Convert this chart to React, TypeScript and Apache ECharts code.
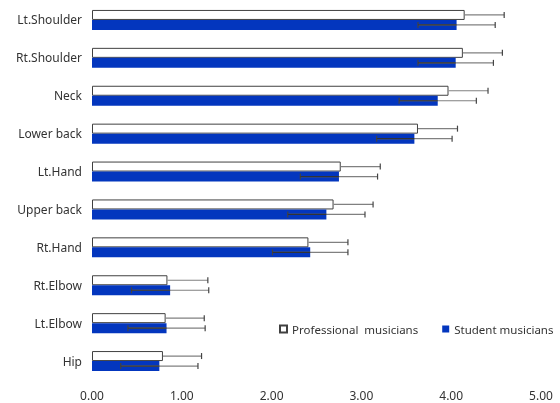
import React, { useEffect, useRef } from "react";
import * as echarts from "echarts";

const categories = ["Lt.Shoulder", "Rt.Shoulder", "Neck", "Lower back", "Lt.Hand", "Upper back", "Rt.Hand", "Rt.Elbow", "Lt.Elbow", "Hip"];
const professional = [4.15, 4.13, 3.97, 3.63, 2.77, 2.69, 2.41, 0.84, 0.82, 0.79];
const professionalSd = [0.44, 0.44, 0.44, 0.44, 0.44, 0.44, 0.44, 0.45, 0.43, 0.43];
const student = [4.06, 4.05, 3.85, 3.59, 2.75, 2.61, 2.43, 0.87, 0.83, 0.75];
const studentSd = [0.43, 0.42, 0.43, 0.42, 0.43, 0.43, 0.42, 0.43, 0.43, 0.43];
const xTicks = [0, 1, 2, 3, 4, 5];

const FONT = "'Noto Sans', sans-serif";
const BLUE = "#0336BE";

function errorSeries(name: string, means: number[], sds: number[], offset: number, both: boolean) {
  return {
    type: "custom",
    name: name + "-err",
    z: 5,
    silent: true,
    data: means.map((m, i) => [m, i, sds[i]]),
    encode: { x: 0, y: 1 },
    renderItem: (params: any, api: any) => {
      const m = api.value(0);
      const c = api.value(1);
      const s = api.value(2);
      const mid = api.coord([m, c]);
      const lo = api.coord([both ? m - s : m, c]);
      const hi = api.coord([m + s, c]);
      const y = mid[1] + offset;
      const children: any[] = [
        { type: "line", shape: { x1: lo[0], y1: y, x2: hi[0], y2: y }, style: { stroke: "#808080", lineWidth: 1.2 } },
        { type: "line", shape: { x1: hi[0], y1: y - 3, x2: hi[0], y2: y + 3 }, style: { stroke: "#444", lineWidth: 1.2 } },
      ];
      if (both) {
        children.push({ type: "line", shape: { x1: lo[0], y1: y - 3, x2: lo[0], y2: y + 3 }, style: { stroke: "#444", lineWidth: 1.2 } });
        children.push({ type: "line", shape: { x1: lo[0], y1: y, x2: mid[0], y2: y }, style: { stroke: "#333", lineWidth: 1.2 } });
      }
      return { type: "group", children };
    },
  };
}

export default function App() {
  const ref = useRef<HTMLDivElement>(null);
  useEffect(() => {
    if (!ref.current) return;
    const chart = echarts.init(ref.current, null, { renderer: "svg" });
    chart.setOption({
      animation: false,
      textStyle: { fontFamily: FONT },
      grid: { left: 92, right: 19, top: 1, bottom: 23, containLabel: false },
      legend: {
        left: 279,
        top: 323,
        width: 300,
        padding: 0,
        itemWidth: 7,
        itemHeight: 7,
        itemGap: 24,
        icon: "rect",
        textStyle: { fontFamily: FONT, fontSize: 11.5, color: "#333" },
        data: ["Professional  musicians", "Student musicians"],
      },
      xAxis: {
        type: "value",
        min: 0,
        max: 5,
        interval: 1,
        axisLine: { show: false },
        axisTick: { show: false },
        splitLine: { show: false },
        axisLabel: {
          margin: 9,
          fontSize: 12,
          color: "#333",
          fontFamily: FONT,
          formatter: (v: number) => (xTicks.includes(v) ? v.toFixed(2) : ""),
        },
      },
      yAxis: {
        type: "category",
        data: categories,
        inverse: true,
        axisLine: { show: false },
        axisTick: { show: false },
        axisLabel: { margin: 10, fontSize: 12, color: "#333", fontFamily: FONT },
      },
      series: [
        {
          name: "Professional  musicians",
          type: "bar",
          data: professional,
          barWidth: 10,
          barGap: "0%",
          itemStyle: { color: "#ffffff", borderColor: "#404040", borderWidth: 1 },
        },
        {
          name: "Student musicians",
          type: "bar",
          data: student,
          barWidth: 10,
          barGap: "0%",
          itemStyle: { color: BLUE },
        },
        errorSeries("Professional", professional, professionalSd, -5, false),
        errorSeries("Student", student, studentSd, 5, true),
      ],
    });
    return () => chart.dispose();
  }, []);
  return <div ref={ref} style={{ position: "fixed", left: 0, top: 0, width: 560, height: 403 }} />;
}
